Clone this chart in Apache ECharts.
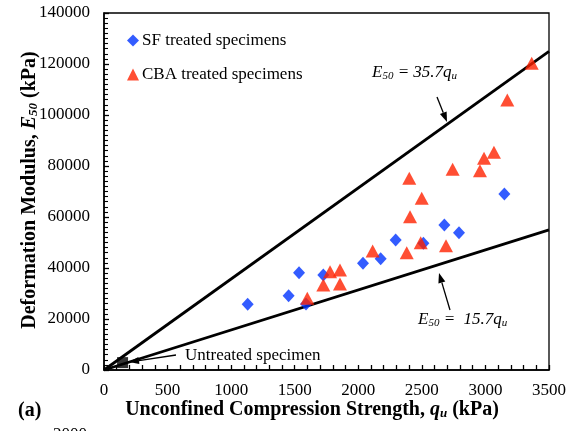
<!DOCTYPE html>
<html>
<head>
<meta charset="utf-8">
<script src="https://cdn.jsdelivr.net/npm/echarts@6/dist/echarts.min.js"></script>
<style>
  html, body { margin: 0; padding: 0; background: #fff; }
  #chart { width: 576px; height: 431px; }
</style>
</head>
<body>
<div id="chart"></div>
<script>
// Unconfined compression strength q_u (kPa) and deformation modulus E50 (kPa)
const sfQu = [1130, 1452, 1534, 1589, 1725, 2037, 2176, 2294, 2512, 2677, 2792, 3149];
const sfE50 = [25750, 29150, 38160, 25880, 37250, 41830, 43650, 50980, 49680, 56860, 53850, 69020];

const cbaQu = [1599, 1725, 1778, 1856, 1856, 2113, 2381, 2401, 2407, 2491, 2499, 2690, 2742, 2957, 2989, 3067, 3172, 3364];
const cbaE50 = [28100, 33330, 38550, 33725, 39220, 46670, 46000, 75170, 60130, 49930, 67330, 48750, 78700, 78170, 83000, 85360, 105880, 120280];

const untreatedQu = [146];
const untreatedE50 = [2900];

// Reference lines E50 = 35.7 qu and E50 = 15.7 qu, given by their end points
const upperLineQu = [0, 3500];
const upperLineE50 = [0, 124950];
const lowerLineQu = [0, 3500];
const lowerLineE50 = [0, 54950];

const xTicks = [0, 500, 1000, 1500, 2000, 2500, 3000, 3500];
const yTicks = [0, 20000, 40000, 60000, 80000, 100000, 120000, 140000];

const pairs = (xs, ys) => xs.map((x, i) => [x, ys[i]]);

const serif = "'Liberation Serif', 'Times New Roman', serif";
const blue = '#0033ff';
const red = '#ff2200';

function arrow(x1, y1, x2, y2) {
  const ang = Math.atan2(y2 - y1, x2 - x1);
  const len = 10, half = 3.6;
  const bx = x2 - len * Math.cos(ang), by = y2 - len * Math.sin(ang);
  const nx = -Math.sin(ang), ny = Math.cos(ang);
  return [
    { type: 'line', shape: { x1: x1, y1: y1, x2: bx, y2: by }, style: { stroke: '#000', lineWidth: 1.3 }, z: 50 },
    { type: 'polygon', shape: { points: [[x2, y2], [bx + nx * half, by + ny * half], [bx - nx * half, by - ny * half]] }, style: { fill: '#000' }, z: 50 }
  ];
}

const eqRich = {
  i: { fontFamily: serif, fontStyle: 'italic', fontSize: 17, color: '#000' },
  s: { fontFamily: serif, fontStyle: 'italic', fontSize: 11, color: '#000', verticalAlign: 'bottom', padding: [8, 0, 0, 0] }
};

const titleRich = {
  b: { fontFamily: serif, fontWeight: 'bold', fontSize: 20, color: '#000' },
  bi: { fontFamily: serif, fontWeight: 'bold', fontStyle: 'italic', fontSize: 20, color: '#000' },
  bs: { fontFamily: serif, fontWeight: 'bold', fontStyle: 'italic', fontSize: 13, color: '#000', padding: [8, 0, 0, 0] }
};

const chart = echarts.init(document.getElementById('chart'), null, { renderer: 'canvas' });

chart.setOption({
  animation: false,
  backgroundColor: '#fff',
  grid: { left: 104, right: 27, top: 13, bottom: 61, show: true, borderColor: '#000', borderWidth: 1.3, backgroundColor: 'transparent' },
  legend: {
    data: [
      { name: 'SF treated specimens', icon: 'diamond' },
      { name: 'CBA treated specimens', icon: 'triangle' }
    ],
    orient: 'vertical',
    left: 122, top: 27,
    itemWidth: 12, itemHeight: 12, itemGap: 17,
    textStyle: { fontFamily: serif, fontSize: 17, color: '#000', padding: [0, 0, 0, -2] }
  },
  xAxis: {
    type: 'value', min: 0, max: 3500, interval: 500,
    axisLine: { show: true, onZero: false, lineStyle: { color: '#000', width: 1.5 } },
    axisTick: { show: true, inside: true, length: 5, lineStyle: { color: '#000', width: 1.3 } },
    minorTick: { show: true, splitNumber: 5, length: 5, lineStyle: { color: '#000', width: 1.3 } },
    splitLine: { show: false },
    axisLabel: { fontFamily: serif, fontSize: 17, color: '#000', margin: 12,
      formatter: v => xTicks.includes(v) ? String(v) : '' }
  },
  yAxis: {
    type: 'value', min: 0, max: 140000, interval: 20000,
    axisLine: { show: true, onZero: false, lineStyle: { color: '#000', width: 1.5 } },
    axisTick: { show: true, inside: true, length: 5, lineStyle: { color: '#000', width: 1.3 } },
    minorTick: { show: true, splitNumber: 10, length: 4, lineStyle: { color: '#000', width: 1.1 } },
    splitLine: { show: false },
    axisLabel: { fontFamily: serif, fontSize: 17, color: '#000', margin: 14,
      formatter: v => yTicks.includes(v) ? String(v) : '' }
  },
  series: [
    {
      name: 'E50 = 35.7qu', type: 'line', data: pairs(upperLineQu, upperLineE50),
      showSymbol: false, lineStyle: { color: '#000', width: 2.8 }, z: 1, silent: true
    },
    {
      name: 'E50 = 15.7qu', type: 'line', data: pairs(lowerLineQu, lowerLineE50),
      showSymbol: false, lineStyle: { color: '#000', width: 2.8 }, z: 1, silent: true
    },
    {
      name: 'SF treated specimens', type: 'scatter', data: pairs(sfQu, sfE50),
      symbol: 'diamond', symbolSize: [12, 13], itemStyle: { color: blue }, z: 3
    },
    {
      name: 'CBA treated specimens', type: 'scatter', data: pairs(cbaQu, cbaE50),
      symbol: 'triangle', symbolSize: [14, 13], itemStyle: { color: red }, z: 4
    },
    {
      name: 'Untreated specimen', type: 'scatter', data: pairs(untreatedQu, untreatedE50),
      symbol: 'rect', symbolSize: 11, itemStyle: { color: '#000' }, z: 5
    }
  ],
  graphic: [
    // Axis titles
    {
      type: 'text', x: 312, y: 410, z: 60,
      style: {
        text: '{b|Unconfined Compression Strength, }{bi|q}{bs|u}{b| (kPa)}',
        align: 'center', verticalAlign: 'middle',
        rich: titleRich
      }
    },
    {
      type: 'text', x: 30, y: 190, rotation: Math.PI / 2, z: 60,
      style: {
        text: '{b|Deformation Modulus, }{bi|E}{bs|50}{b| (kPa)}',
        align: 'center', verticalAlign: 'middle',
        rich: titleRich
      }
    },
    // Panel tag
    { type: 'text', left: 18, top: 401, z: 60,
      style: { text: '(a)', fontFamily: serif, fontWeight: 'bold', fontSize: 20, fill: '#000' } },
    { type: 'text', left: 53, top: 426, z: 60,
      style: { text: '2000', fontFamily: serif, fontSize: 17, fill: '#000' } },
    // Equation labels
    { type: 'text', left: 372, top: 64, z: 60,
      style: { text: '{i|E}{s|50}{i| = 35.7}{i|q}{s|u}', rich: eqRich } },
    { type: 'text', left: 418, top: 311, z: 60,
      style: { text: '{i|E}{s|50}{i| =  15.7}{i|q}{s|u}', rich: eqRich } },
    { type: 'text', left: 185, top: 347, z: 60,
      style: { text: 'Untreated specimen', fontFamily: serif, fontSize: 17, fill: '#000' } },
    ...arrow(437, 97, 447, 122),
    ...arrow(450, 310, 439, 273),
    ...arrow(176, 355, 129, 362)
  ]
});
</script>
</body>
</html>
